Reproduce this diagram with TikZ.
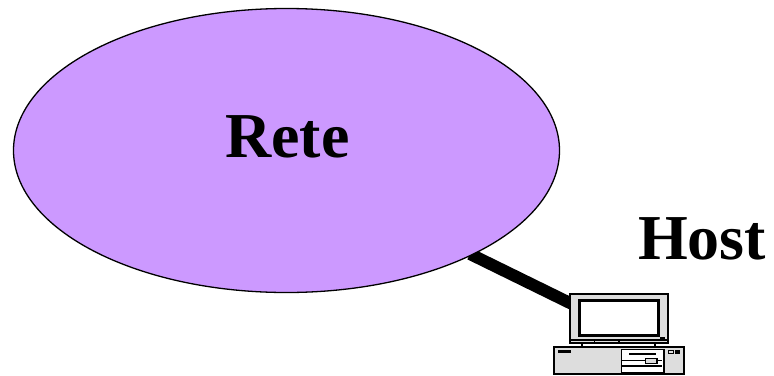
\documentclass[tikz,border=0pt]{standalone}
\usepackage{fontspec}
\setmainfont{Liberation Serif}
\usetikzlibrary{shapes.geometric,backgrounds}
\definecolor{netfill}{HTML}{CC99FF}
\definecolor{pcgrey}{HTML}{DDDDDD}
\tikzset{
  cloud net/.style={ellipse,draw=black,line width=1.3pt,fill=netfill,inner sep=0pt,minimum width=546pt,minimum height=284pt},
  big label/.style={font=\fontsize{64}{64}\selectfont\bfseries,anchor=base,inner sep=0pt},
  pc box/.style={draw=black,line width=1.6pt,fill=pcgrey,inner sep=0pt},
  pc thick/.style={draw=black,line width=2.4pt},
  pc thin/.style={draw=black,line width=1.1pt},
  link/.style={draw=black,line width=12pt}
}
\begin{document}
\begin{tikzpicture}[x=1pt,y=-1pt]
\useasboundingbox (0,0) rectangle (774,375);
\node[cloud net] (rete) at (286.5,150.5) {};
\node[big label] (retelabel) at (287.5,157) {Rete};
\node[big label] (hostlabel) at (702,259) {Host};
% base unit
\draw[pc box] (554,347) rectangle (684,374);
\fill (558,349.5) rectangle (571,352.5);
\draw[pc thin,fill=white] (621.5,349.5) rectangle (664,373);
\fill (629,352.5) rectangle (656,355);
\draw[pc thin] (621.5,360.5) -- (662,360.5);
\draw[pc thin] (621.5,366) -- (662,366);
\draw[pc thin,fill=pcgrey] (645.5,358.5) rectangle (657,363.5);
\draw[line width=.8pt] (668,350) rectangle (673,353);
\fill (675,349.5) rectangle (680,353.5);
% stand
\draw[line width=1.4pt] (582,343) -- (582,347);
\draw[line width=1.4pt] (655,343) -- (655,347);
% monitor
\node[pc box,minimum width=98pt,minimum height=49pt] (monitor) at (619,318.5) {};
\draw[pc thick,fill=white] (579.5,300.5) rectangle (658.5,335.5);
\draw[pc thin] (570,340) -- (668,340);
\draw[pc thin] (594.5,340) -- (594.5,343);
\draw[pc thin] (619,340) -- (619,343);
\fill (660,337) rectangle (665,339);
% link
\coordinate (linkstart) at (470,254);
\coordinate (linkend) at (573,304.5);
\begin{scope}[on background layer]
\draw[link] (linkstart) -- (linkend);
\end{scope}
\end{tikzpicture}
\end{document}
